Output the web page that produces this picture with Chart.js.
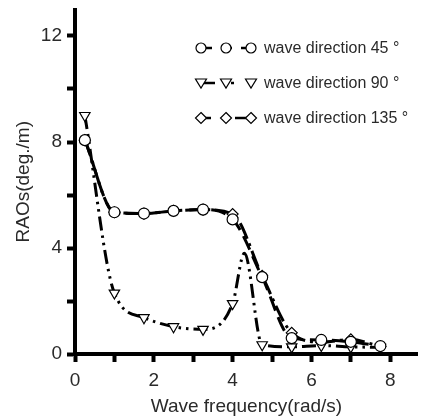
<!DOCTYPE html>
<html>
<head>
<meta charset="utf-8">
<script src="https://cdn.jsdelivr.net/npm/chart.js@4"></script>
<style>
  html, body { margin: 0; padding: 0; background: #fff; }
  .wrap { position: relative; width: 425px; height: 418px; }
  .legend { position: absolute; left: 193px; top: 30px; font-family: "Liberation Sans", Arial, sans-serif; font-size: 16px; color: #2a2a2a; }
  .legend .row { display: flex; align-items: center; height: 35px; }
  .legend svg { width: 70px; height: 20px; margin-right: 1px; }
</style>
</head>
<body>
<div class="wrap">
  <canvas id="chart" width="425" height="418"></canvas>
  <div class="legend" id="legend"></div>
</div>
<script>
// marker grid (rad/s)
const freqGrid = [0.25, 1.0, 1.75, 2.5, 3.25, 4.0, 4.75, 5.5, 6.25, 7.0, 7.75];

const freq45 = [0.25, 1.0, 1.75, 2.5, 3.25, 4.0, 4.75, 5.5, 6.25, 7.0, 7.75];
const rao45 = [8.07, 5.35, 5.3, 5.4, 5.45, 5.08, 2.9, 0.6, 0.53, 0.46, 0.3];

const freq90 = [0.25, 1.0, 1.75, 2.5, 3.25, 4.0, 4.3, 4.75, 5.5, 6.25, 7.0, 7.75];
const rao90 = [9.0, 2.3, 1.37, 1.03, 0.93, 1.9, 3.8, 0.35, 0.27, 0.32, 0.27, 0.25];

const freq135 = [0.25, 1.0, 1.75, 2.5, 3.25, 4.0, 4.75, 5.5, 6.25, 7.0, 7.75];
const rao135 = [8.07, 5.35, 5.3, 5.4, 5.45, 5.28, 2.95, 0.8, 0.45, 0.55, 0.28];

const seriesNames = ['wave direction 45 °', 'wave direction 90 °', 'wave direction 135 °'];
const xTicks = [0, 2, 4, 6, 8];
const yTicks = [0, 4, 8, 12];

const FONT = '"Liberation Sans", Arial, sans-serif';
const TXT = '#2a2a2a';
const styles = [
  { point: 'circle', rot: 0, radius: 5.5, dash: [15, 7] },
  { point: 'triangle', rot: 180, radius: 6, dash: [14, 5, 2.5, 5, 2.5, 5] },
  { point: 'rectRot', rot: 0, radius: 5.5, dash: [17, 5, 3, 5] }
];

function pts(xs, ys) {
  return xs.map((x, i) => ({ x: x, y: ys[i] }));
}

const datasets = [pts(freq45, rao45), pts(freq90, rao90), pts(freq135, rao135)].map((d, i) => ({
  label: seriesNames[i],
  data: d,
  borderColor: '#000',
  borderWidth: 3,
  borderDash: styles[i].dash,
  cubicInterpolationMode: 'monotone',
  pointStyle: styles[i].point,
  rotation: styles[i].rot,
  pointRadius: ctx => freqGrid.includes(ctx.raw.x) ? styles[i].radius : 0,
  pointBackgroundColor: '#fff',
  pointBorderColor: '#000',
  pointBorderWidth: 1.2,
  fill: false
}));

new Chart(document.getElementById('chart'), {
  type: 'line',
  data: { datasets: datasets },
  options: {
    responsive: false,
    animation: false,
    layout: { padding: { top: 9.5, right: 0, left: 0, bottom: 0 } },
    plugins: { legend: { display: false }, tooltip: { enabled: false } },
    scales: {
      x: {
        type: 'linear',
        min: 0,
        max: 8.7,
        afterFit: s => { s.height = 64; },
        border: { display: true, color: '#000', width: 4 },
        grid: { drawOnChartArea: false, drawTicks: true, tickLength: 8, tickWidth: 4, tickColor: '#000' },
        ticks: {
          stepSize: 1,
          includeBounds: false,
          padding: 7,
          color: TXT,
          font: { family: FONT, size: 19 },
          callback: v => xTicks.includes(v) ? String(v) : ''
        },
        title: { display: true, text: 'Wave frequency(rad/s)', color: TXT, font: { family: FONT, size: 19 }, padding: { top: 0, bottom: 0 } }
      },
      y: {
        min: 0,
        max: 13,
        afterFit: s => { s.width = 75; s.paddingTop = 0; },
        border: { display: true, color: '#000', width: 4 },
        grid: { drawOnChartArea: false, drawTicks: true, tickLength: 8, tickWidth: 4, tickColor: '#000' },
        ticks: {
          stepSize: 2,
          includeBounds: false,
          padding: 5,
          color: TXT,
          font: { family: FONT, size: 19 },
          callback: v => yTicks.includes(v) ? String(v) : ''
        },
        title: { display: true, text: 'RAOs(deg./m)', color: TXT, font: { family: FONT, size: 19 }, padding: { top: 12, bottom: 4 } }
      }
    }
  }
});

// legend with marker-line samples
const legendEl = document.getElementById('legend');
function marker(kind, cx, cy) {
  if (kind === 'circle') return `<circle cx="${cx}" cy="${cy}" r="5" fill="#fff" stroke="#000" stroke-width="1.2"/>`;
  if (kind === 'triangle') return `<polygon points="${cx - 5.5},${cy - 4} ${cx + 5.5},${cy - 4} ${cx},${cy + 5}" fill="#fff" stroke="#000" stroke-width="1.2"/>`;
  return `<polygon points="${cx},${cy - 5.5} ${cx + 5.5},${cy} ${cx},${cy + 5.5} ${cx - 5.5},${cy}" fill="#fff" stroke="#000" stroke-width="1.2"/>`;
}
const segs = [
  [[8, 19], [29, 39], [48, 58]],
  [[8, 22], [38, 41]],
  [[8, 18], [42, 55]]
];
seriesNames.forEach((name, i) => {
  const lines = segs[i].map(s => `<line x1="${s[0]}" y1="10" x2="${s[1]}" y2="10" stroke="#000" stroke-width="2.5"/>`).join('');
  const marks = [8, 33, 58].map(cx => marker(styles[i].point, cx, 10)).join('');
  legendEl.innerHTML += `<div class="row"><svg viewBox="0 0 70 20">${lines}${marks}</svg><span>${name}</span></div>`;
});
</script>
</body>
</html>
